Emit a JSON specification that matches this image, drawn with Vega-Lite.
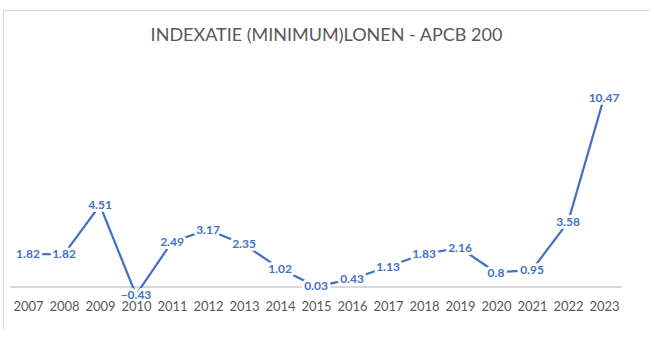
{
  "$schema": "https://vega.github.io/schema/vega-lite/v6.json",
  "width": 647,
  "height": 320,
  "autosize": {"type": "none"},
  "padding": {"left": 3, "top": 10, "right": 0, "bottom": 0},
  "background": "white",
  "config": {
    "view": {"stroke": "#d9d9d9", "strokeWidth": 1},
    "font": "Lato"
  },
  "title": {
    "text": "INDEXATIE (MINIMUM)LONEN - APCB 200",
    "font": "Lato",
    "fontSize": 18,
    "fontWeight": 400,
    "color": "#595959",
    "anchor": "middle",
    "offset": -35
  },
  "data": {
    "values": [
      {"year": 2007, "value": 1.82},
      {"year": 2008, "value": 1.82},
      {"year": 2009, "value": 4.51},
      {"year": 2010, "value": -0.43},
      {"year": 2011, "value": 2.49},
      {"year": 2012, "value": 3.17},
      {"year": 2013, "value": 2.35},
      {"year": 2014, "value": 1.02},
      {"year": 2015, "value": 0.03},
      {"year": 2016, "value": 0.43},
      {"year": 2017, "value": 1.13},
      {"year": 2018, "value": 1.83},
      {"year": 2019, "value": 2.16},
      {"year": 2020, "value": 0.8},
      {"year": 2021, "value": 0.95},
      {"year": 2022, "value": 3.58},
      {"year": 2023, "value": 10.47}
    ]
  },
  "encoding": {
    "x": {
      "field": "year",
      "type": "quantitative",
      "scale": {"domain": [2006.306, 2024.278], "nice": false, "zero": false},
      "axis": {
        "values": [2007, 2008, 2009, 2010, 2011, 2012, 2013, 2014, 2015, 2016, 2017, 2018, 2019, 2020, 2021, 2022, 2023],
        "format": "d",
        "title": null,
        "grid": false,
        "domain": false,
        "ticks": false,
        "offset": -30,
        "labelPadding": 0,
        "labelFont": "Lato",
        "labelFontSize": 13,
        "labelColor": "#595959",
        "labelFlush": false,
        "labelOverlap": false,
        "zindex": 1
      }
    },
    "y": {
      "field": "value",
      "type": "quantitative",
      "scale": {"domain": [-2.377, 15.31], "nice": false, "zero": false},
      "axis": null
    }
  },
  "layer": [
    {
      "mark": {"type": "rule", "color": "#d9d9d9", "strokeWidth": 1},
      "encoding": {
        "x": {"datum": 2006.5},
        "x2": {"datum": 2023.5},
        "y": {"datum": 0}
      }
    },
    {
      "mark": {"type": "line", "color": "#4472C4", "strokeWidth": 2.25}
    },
    {
      "mark": {"type": "text", "font": "Lato", "fontSize": 12, "fontWeight": "bold", "fill": "white", "stroke": "white", "strokeWidth": 6, "strokeJoin": "round", "baseline": "middle", "align": "center"},
      "encoding": {"text": {"field": "value", "type": "quantitative"}}
    },
    {
      "mark": {"type": "text", "font": "Lato", "fontSize": 12, "fontWeight": "bold", "color": "#4472C4", "baseline": "middle", "align": "center"},
      "encoding": {"text": {"field": "value", "type": "quantitative"}}
    }
  ]
}
